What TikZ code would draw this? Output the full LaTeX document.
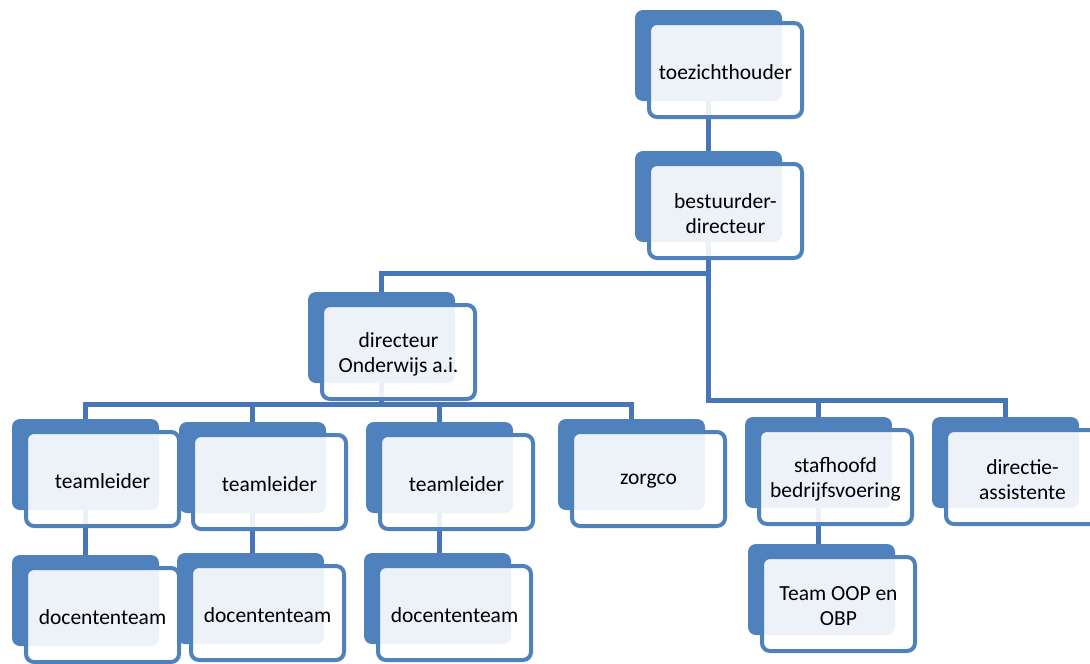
\documentclass[tikz,border=0pt]{standalone}
\usepackage{fontspec}
\setmainfont{Carlito}
\pgfdeclarelayer{bg}
\pgfsetlayers{bg,main}
\definecolor{accent}{RGB}{79,129,189}
\definecolor{conn}{RGB}{70,118,182}
\tikzset{
  backbox/.style={fill=accent, draw=none, rounded corners=8pt, minimum width=147pt,
    minimum height=91pt, anchor=north west, inner sep=0pt, outer sep=0pt},
  frontbox/.style={draw=accent, line width=4pt, fill=white, fill opacity=0.9,
    rounded corners=8pt, minimum width=153pt, minimum height=94pt, inner sep=0pt},
  boxtext/.style={inner sep=0pt, align=center, font=\fontsize{21.5}{25}\selectfont, text=black},
  link/.style={draw=conn, line width=5pt}
}
\newcommand\orgunit[4]{%
  \node[backbox] (#1b) at (#2,#3) {};
  \node[frontbox] (#1f) at ([shift={(90.5,60)}]#1b.north west) {};
  \node[boxtext] (#1t) at ([yshift=-2.5pt]#1f.center) {#4};
}
\begin{document}
\begin{tikzpicture}[x=1pt,y=-1pt]
\useasboundingbox (0,0) rectangle (1090,664);
\clip (0,0) rectangle (1090,664);
\begin{pgfonlayer}{bg}
\fill[white] (0,0) rectangle (1090,664);
\end{pgfonlayer}
\orgunit{T}{635}{10}{toezichthouder}
\orgunit{B}{635}{151}{bestuurder-\\directeur}
\orgunit{D}{308}{292}{directeur\\Onderwijs a.i.}
\orgunit{TLa}{12}{419}{teamleider}
\orgunit{TLb}{179}{422}{teamleider}
\orgunit{TLc}{366}{422}{teamleider}
\orgunit{Z}{558}{419}{zorgco}
\orgunit{S}{745}{417}{stafhoofd\\bedrijfsvoering}
\orgunit{DA}{932}{417}{directie-\\assistente}
\orgunit{DTa}{12}{555}{docententeam}
\orgunit{DTb}{177}{553}{docententeam}
\orgunit{DTc}{364}{553}{docententeam}
\orgunit{TO}{748}{544}{Team OOP en\\OBP}
\begin{pgfonlayer}{bg}
\coordinate (busA) at (709,273);
\coordinate (busB) at (709,400);
\coordinate (busC) at (382,404);
\draw[link] (Tb.south) -- (Bb.north);
\draw[link] (Bb.south) -- (Bb.south |- busA) -| (Db.north);
\draw[link] (Bb.south) -- (Bb.south |- busB) -| (Sb.north);
\draw[link] (Bb.south |- busB) -| (DAb.north);
\draw[link] (Db.south) -- (Db.south |- busC) -| (TLab.north);
\draw[link] (Db.south |- busC) -| (TLbb.north);
\draw[link] (Db.south |- busC) -| (TLcb.north);
\draw[link] (Db.south |- busC) -| (Zb.north);
\draw[link] (TLab.south) -- (TLab.south |- DTab.north);
\draw[link] (TLbb.south) -- (TLbb.south |- DTbb.north);
\draw[link] (TLcb.south) -- (TLcb.south |- DTcb.north);
\draw[link] (Sb.south) -- (Sb.south |- TOb.north);
\end{pgfonlayer}
\end{tikzpicture}
\end{document}
